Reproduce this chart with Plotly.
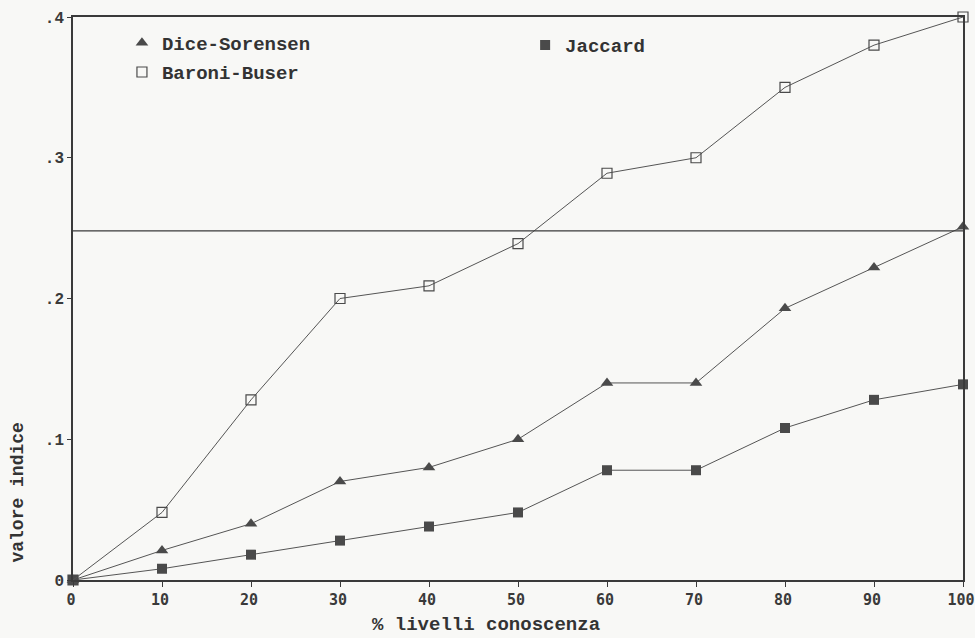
import plotly.graph_objects as go

x_levels = [0, 10, 20, 30, 40, 50, 60, 70, 80, 90, 100]
dice_sorensen = [0, 0.021, 0.040, 0.070, 0.080, 0.100, 0.140, 0.140, 0.193, 0.222, 0.251]
jaccard = [0, 0.008, 0.018, 0.028, 0.038, 0.048, 0.078, 0.078, 0.108, 0.128, 0.139]
baroni_buser = [0, 0.048, 0.128, 0.200, 0.209, 0.239, 0.289, 0.300, 0.350, 0.380, 0.400]
ref_line = 0.248
y_tickvals = [0, 0.1, 0.2, 0.3, 0.4]
y_ticktext = ["0", ".1", ".2", ".3", ".4"]
x_tickvals = x_levels
x_title = "% livelli conoscenza"
y_title = "valore indice"

ink = "#3a3a3a"
courier = "Liberation Mono, Courier New, monospace"
pixel = "DejaVu Sans Mono, monospace"

fig = go.Figure()

series = [
    ("Dice-Sorensen", dice_sorensen, dict(symbol="triangle-up", size=11, color="#4a4a4a"), "legend"),
    ("Jaccard", jaccard, dict(symbol="square", size=10, color="#4a4a4a"), "legend2"),
    ("Baroni-Buser", baroni_buser,
     dict(symbol="square-open", size=10, color="#4a4a4a", line=dict(width=1.2)), "legend3"),
]

for name, ys, mk, lg in series:
    fig.add_trace(go.Scatter(
        x=x_levels, y=ys, mode="lines+markers", name=name,
        line=dict(color="#555555", width=1),
        marker=mk, cliponaxis=False, showlegend=False,
    ))

for name, ys, mk, lg in series:
    fig.add_trace(go.Scatter(
        x=[None], y=[None], mode="markers", name=name, marker=mk,
        showlegend=True, legend=lg,
    ))

fig.add_hline(y=ref_line, line=dict(color=ink, width=1.2))

legend_font = dict(family=courier, size=19, color="#333333", weight="bold")
legend_common = dict(xanchor="left", yanchor="middle", bgcolor="rgba(0,0,0,0)",
                     font=legend_font, borderwidth=0)

fig.update_layout(
    width=975, height=638,
    margin=dict(l=73, r=12, t=17, b=58),
    paper_bgcolor="#f8f8f6", plot_bgcolor="#f8f8f6",
    font=dict(family=courier, size=14, color="#333333"),
    legend=dict(x=0.055, y=0.954, **legend_common),
    legend2=dict(x=0.508, y=0.950, **legend_common),
    legend3=dict(x=0.055, y=0.902, **legend_common),
    xaxis=dict(
        range=[0, 100], tickvals=x_tickvals, ticks="outside", ticklen=5, tickcolor=ink,
        showline=True, mirror=True, linecolor=ink, linewidth=1.5, showgrid=False, zeroline=False,
        tickfont=dict(family=pixel, size=15, weight="bold", color="#3a3a3a"),
        automargin=False, ticklabeloverflow="allow", ticklabelshift=-2,
    ),
    yaxis=dict(
        range=[0, 0.4], tickvals=y_tickvals, ticktext=y_ticktext, ticks="outside", ticklen=4,
        tickcolor=ink, showline=True, mirror=True, linecolor=ink, linewidth=1.5,
        showgrid=False, zeroline=False,
        tickfont=dict(family=courier, size=16, weight="bold", color="#3a3a3a"),
        automargin=False, ticklabeloverflow="allow",
    ),
    annotations=[
        dict(text=x_title, xref="paper", yref="paper", x=0.464, y=-0.080,
             xanchor="center", yanchor="middle", showarrow=False,
             font=dict(family=courier, size=19, weight="bold", color="#333333")),
        dict(text=y_title, xref="paper", yref="paper", x=-0.062, y=0.155,
             xanchor="center", yanchor="middle", textangle=-90, showarrow=False,
             font=dict(family=courier, size=18, weight="bold", color="#333333")),
    ],
)

fig.write_html(
    "out.html",
    config={"displayModeBar": False},
    post_script="document.body.style.margin='0';document.body.style.overflow='hidden';",
)
